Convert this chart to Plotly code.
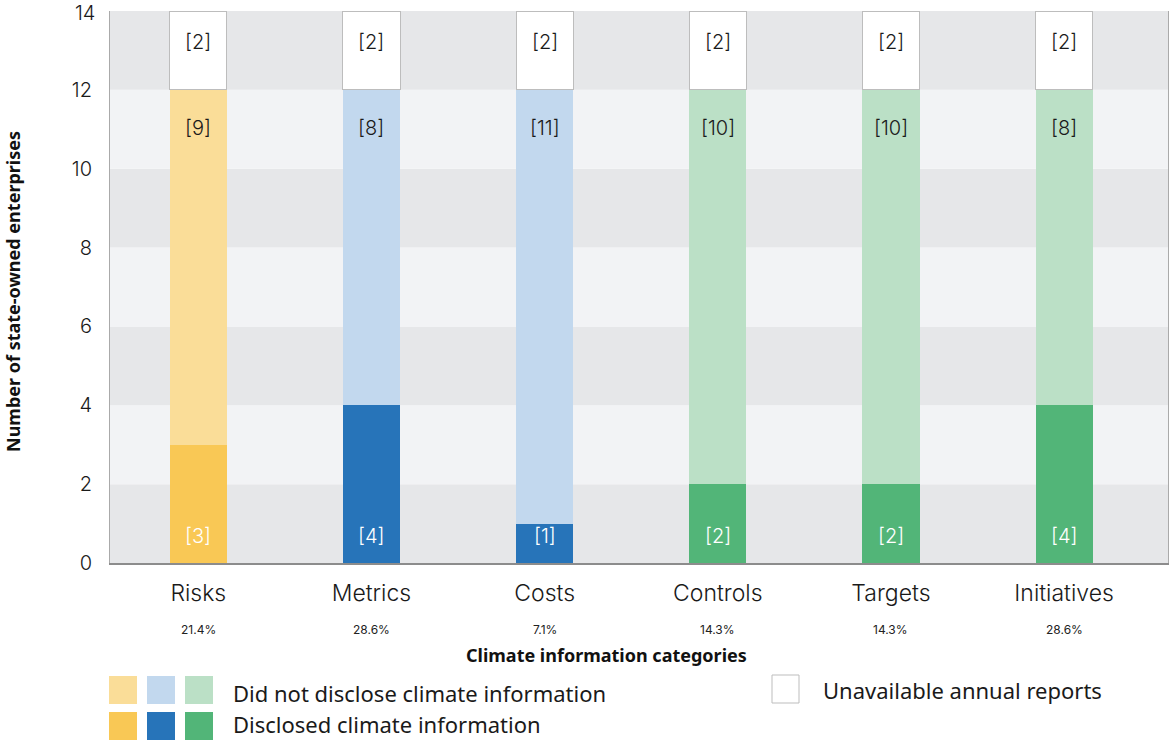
import plotly.graph_objects as go

# Climate disclosure by state-owned enterprises, per information category
categories = ["Risks", "Metrics", "Costs", "Controls", "Targets", "Initiatives"]
disclosed = [3, 4, 1, 2, 2, 4]
not_disclosed = [9, 8, 11, 10, 10, 8]
unavailable = [2, 2, 2, 2, 2, 2]
y_ticks = [0, 2, 4, 6, 8, 10, 12, 14]

dark_colors = ["#F9C855", "#2774B9", "#2774B9", "#52B578", "#52B578", "#52B578"]
light_colors = ["#FADD98", "#C2D8EE", "#C2D8EE", "#BBE0C6", "#BBE0C6", "#BBE0C6"]

W, H = 1169, 740
L, R, T, B = 110, 1, 11, 177
PW, PH = W - L - R, H - T - B

NUM_FONT = "Inter"
TEXT_FONT = "Noto Sans"


def px(x):
    return (x - L) / PW


def py(y):
    return (H - B - y) / PH


totals = [d + n + u for d, n, u in zip(disclosed, not_disclosed, unavailable)]
bar_w = 0.33
y_max = y_ticks[-1]

fig = go.Figure()
fig.add_trace(go.Bar(x=categories, y=disclosed, width=bar_w,
                     marker=dict(color=dark_colors, line=dict(width=0)),
                     name="Disclosed climate information", hoverinfo="skip"))
fig.add_trace(go.Bar(x=categories, y=not_disclosed, width=bar_w,
                     marker=dict(color=light_colors, line=dict(width=0)),
                     name="Did not disclose climate information", hoverinfo="skip"))
fig.add_trace(go.Bar(x=categories, y=unavailable, width=bar_w,
                     marker=dict(color="white", line=dict(color="#BDBDBD", width=1)),
                     name="Unavailable annual reports", hoverinfo="skip"))

annotations = []
for i, cat in enumerate(categories):
    d, n, u = disclosed[i], not_disclosed[i], unavailable[i]
    # value labels inside each segment
    annotations.append(dict(x=cat, y=d + n + u, yref="y", xref="x", text=f"[{u}]",
                            showarrow=False, yshift=-31, xanchor="center", yanchor="middle",
                            font=dict(family=NUM_FONT, size=20, color="#1a1a1a", weight=300)))
    annotations.append(dict(x=cat, y=d + n, yref="y", xref="x", text=f"[{n}]",
                            showarrow=False, yshift=-38, xanchor="center", yanchor="middle",
                            font=dict(family=NUM_FONT, size=20, color="#1a1a1a", weight=300)))
    annotations.append(dict(x=cat, y=0, yref="y", xref="x", text=f"[{d}]",
                            showarrow=False, yshift=27, xanchor="center", yanchor="middle",
                            font=dict(family=NUM_FONT, size=20, color="white", weight=300)))
    # share of enterprises that disclosed
    pct = 100 * d / totals[i]
    annotations.append(dict(x=cat, xref="x", y=py(629), yref="paper", text=f"{pct:.1f}%",
                            showarrow=False, xanchor="center", yanchor="middle",
                            font=dict(family=NUM_FONT, size=12, color="#222")))

# top tick label of the count axis, placed like the axis' own labels
annotations.append(dict(x=0, xref="paper", y=y_max, yref="y", text=str(y_max),
                        showarrow=False, xanchor="right", yanchor="middle", xshift=-13,
                        yshift=-2,
                        font=dict(family=NUM_FONT, size=20, color="#1a1a1a", weight=300)))

annotations += [
    dict(x=px(606), y=py(655), xref="paper", yref="paper", xanchor="center", yanchor="middle",
         text="<b>Climate information categories</b>", showarrow=False,
         font=dict(family=TEXT_FONT, size=18, color="#111")),
    dict(x=px(13), y=py(292), xref="paper", yref="paper", textangle=-90,
         xanchor="center", yanchor="middle",
         text="<b>Number of state-owned enterprises</b>", showarrow=False,
         font=dict(family=TEXT_FONT, size=18, color="#111")),
    dict(x=px(231), y=py(693), xref="paper", yref="paper", xanchor="left", yanchor="middle",
         text="Did not disclose climate information", showarrow=False,
         font=dict(family=TEXT_FONT, size=22, color="#1a1a1a")),
    dict(x=px(231), y=py(724), xref="paper", yref="paper", xanchor="left", yanchor="middle",
         text="Disclosed climate information", showarrow=False,
         font=dict(family=TEXT_FONT, size=22, color="#1a1a1a")),
    dict(x=px(821), y=py(690), xref="paper", yref="paper", xanchor="left", yanchor="middle",
         text="Unavailable annual reports", showarrow=False,
         font=dict(family=TEXT_FONT, size=22, color="#1a1a1a")),
]

shapes = []
# alternating horizontal bands behind the bars
for k in range(len(y_ticks) - 1):
    shapes.append(dict(type="rect", xref="paper", yref="y", x0=0, x1=1,
                       y0=y_ticks[k], y1=y_ticks[k + 1], layer="below", line=dict(width=0),
                       fillcolor="#E6E7E9" if k % 2 == 0 else "#F2F3F5"))

# legend swatches
swatch_x = [109, 147, 185]
light_swatches = ["#FADD98", "#C2D8EE", "#BBE0C6"]
dark_swatches = ["#F9C855", "#2774B9", "#52B578"]
for sx, lc, dc in zip(swatch_x, light_swatches, dark_swatches):
    shapes.append(dict(type="rect", xref="paper", yref="paper", x0=px(sx), x1=px(sx + 28),
                       y0=py(704), y1=py(676), fillcolor=lc, line=dict(width=0)))
    shapes.append(dict(type="rect", xref="paper", yref="paper", x0=px(sx), x1=px(sx + 28),
                       y0=py(740), y1=py(712), fillcolor=dc, line=dict(width=0)))
shapes.append(dict(type="rect", xref="paper", yref="paper", x0=px(772), x1=px(799),
                   y0=py(703), y1=py(675), fillcolor="white",
                   line=dict(color="#BDBDBD", width=1)))

fig.update_layout(
    width=W, height=H,
    margin=dict(l=L, r=R, t=T, b=B),
    barmode="stack",
    showlegend=False,
    plot_bgcolor="white",
    paper_bgcolor="white",
    shapes=shapes,
    annotations=annotations,
    xaxis=dict(range=[-0.51, 5.6], showgrid=False, showline=True, linecolor="#8C8C8C",
               linewidth=1.5, ticks="", ticklabelstandoff=9,
               tickfont=dict(family=NUM_FONT, size=23, color="#1a1a1a", weight=300)),
    yaxis=dict(range=[0, y_max], tickvals=y_ticks[:-1], showgrid=False, zeroline=False,
               showline=True, linecolor="#AAAAAA", linewidth=1, mirror=True,
               ticks="", ticklabelstandoff=13,
               tickfont=dict(family=NUM_FONT, size=20, color="#1a1a1a", weight=300)),
)

fig.write_html("out.html")
